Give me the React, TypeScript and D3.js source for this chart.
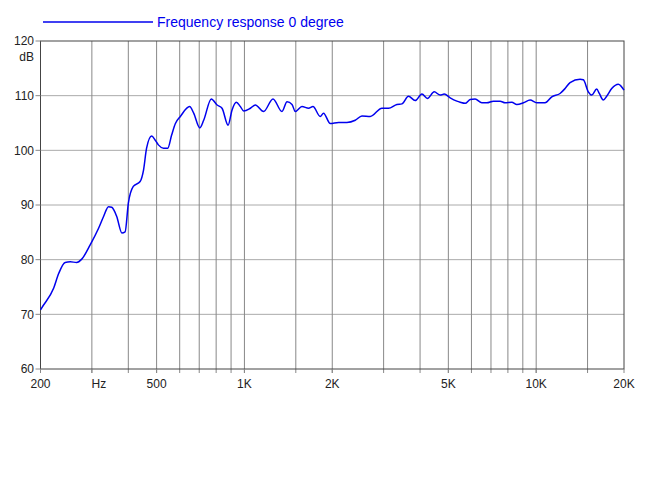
import React from "react";
import * as d3 from "d3";

const freqs = [200, 202, 222, 231, 243, 253, 266, 277, 296, 316, 329, 342, 351, 365, 380, 390, 400, 416, 439, 451, 462, 481, 494, 507, 528, 546, 563, 580, 603, 649, 670, 703, 725, 770, 806, 838, 879, 907, 938, 969, 994, 1048, 1090, 1163, 1253, 1345, 1400, 1456, 1494, 1575, 1659, 1718, 1819, 1867, 1969, 2102, 2245, 2398, 2528, 2699, 2960, 3118, 3331, 3465, 3650, 3849, 4058, 4240, 4472, 4689, 4838, 5072, 5348, 5489, 5710, 5939, 6176, 6512, 6774, 7136, 7524, 7826, 8250, 8582, 9040, 9530, 10046, 10728, 11310, 12074, 12560, 13066, 14138, 14508, 15090, 15502, 16124, 16458, 16986, 17448, 18152, 19122, 20000];
const levels = [70.8, 71.2, 74.8, 77.5, 79.5, 79.6, 79.5, 80.1, 82.7, 85.7, 87.9, 89.7, 89.6, 87.9, 84.9, 85.1, 90.3, 93.4, 94.3, 96.4, 100.4, 102.6, 101.9, 101.0, 100.4, 100.4, 102.8, 104.9, 106.2, 108.0, 106.8, 104.1, 105.5, 109.4, 108.3, 107.7, 104.6, 107.4, 108.8, 108.0, 107.2, 107.7, 108.3, 107.1, 109.4, 107.1, 108.9, 108.4, 107.1, 108.0, 107.7, 108.0, 106.2, 106.8, 104.9, 105.1, 105.1, 105.5, 106.3, 106.2, 107.7, 107.7, 108.4, 108.5, 109.9, 109.1, 110.3, 109.5, 110.7, 110.1, 110.3, 109.6, 109.0, 108.8, 108.6, 109.3, 109.4, 108.7, 108.7, 109.0, 109.0, 108.7, 108.8, 108.4, 108.7, 109.2, 108.7, 108.7, 109.8, 110.4, 111.3, 112.4, 113.0, 112.9, 110.7, 110.1, 111.2, 110.4, 109.2, 109.9, 111.3, 112.1, 111.0];

const gridFreqs = [300, 400, 500, 600, 700, 800, 900, 1000, 1500, 2000, 3000, 4000, 5000, 6000, 7000, 8000, 9000, 10000, 15000];
const xTickValues = [200, 300, 500, 1000, 2000, 5000, 10000, 20000];
const xTickLabels = ["200", "Hz", "500", "1K", "2K", "5K", "10K", "20K"];
const yTickValues = [60, 70, 80, 90, 100, 110, 120];
const legendLabel = "Frequency response 0 degree";

export default function App() {
  const left = 40.5, right = 624, top = 41, bottom = 369;
  const x = d3.scaleLog().domain([200, 20000]).range([left, right]);
  const y = d3.scaleLinear().domain([60, 120]).range([bottom, top]);
  const data = freqs.map((f, i) => [f, levels[i]] as [number, number]);
  const line = d3.line<[number, number]>().x(d => x(d[0])).y(d => y(d[1])).curve(d3.curveMonotoneX);
  const font = "'Liberation Sans', Arial, Helvetica, sans-serif";
  return (
    <svg width={650} height={485} style={{ position: "absolute", left: 0, top: 0, background: "#fff" }} fontFamily={font}>
      <rect x={0} y={0} width={650} height={485} fill="#fff" />
      {yTickValues.filter(v => v > 60 && v < 120).map(v => (
        <line key={"h" + v} x1={left} x2={right} y1={y(v)} y2={y(v)} stroke="#aaa" strokeWidth={1} />
      ))}
      {gridFreqs.map(f => (
        <line key={"v" + f} x1={x(f)} x2={x(f)} y1={top} y2={bottom + 4} stroke="#888" strokeWidth={1} />
      ))}
      <rect x={left} y={top} width={right - left} height={bottom - top} fill="none" stroke="#444" strokeWidth={1} />
      {yTickValues.map(v => (
        <g key={"yt" + v}>
          <line x1={left - 5} x2={left} y1={y(v)} y2={y(v)} stroke="#888" />
          <text x={34} y={y(v)} dy="0.35em" textAnchor="end" fontSize={12} fill="#222">{v}</text>
        </g>
      ))}
      <text x={34} y={57} dy="0.35em" textAnchor="end" fontSize={12} fill="#222">dB</text>
      {xTickValues.map((f, i) => (
        <g key={"xt" + f}>
          <line x1={x(f)} x2={x(f)} y1={bottom} y2={bottom + 4} stroke="#888" />
          <text x={xTickLabels[i] === "Hz" ? x(f) + 7 : x(f)} y={388} textAnchor="middle" fontSize={12} fill="#222">{xTickLabels[i]}</text>
        </g>
      ))}
      <path d={line(data) || ""} fill="none" stroke="#0000ee" strokeWidth={1.5} />
      <line x1={43} x2={153} y1={22} y2={22} stroke="#0000ee" strokeWidth={1.5} />
      <text x={157} y={27} fontSize={14} fill="#0000ee">{legendLabel}</text>
    </svg>
  );
}
